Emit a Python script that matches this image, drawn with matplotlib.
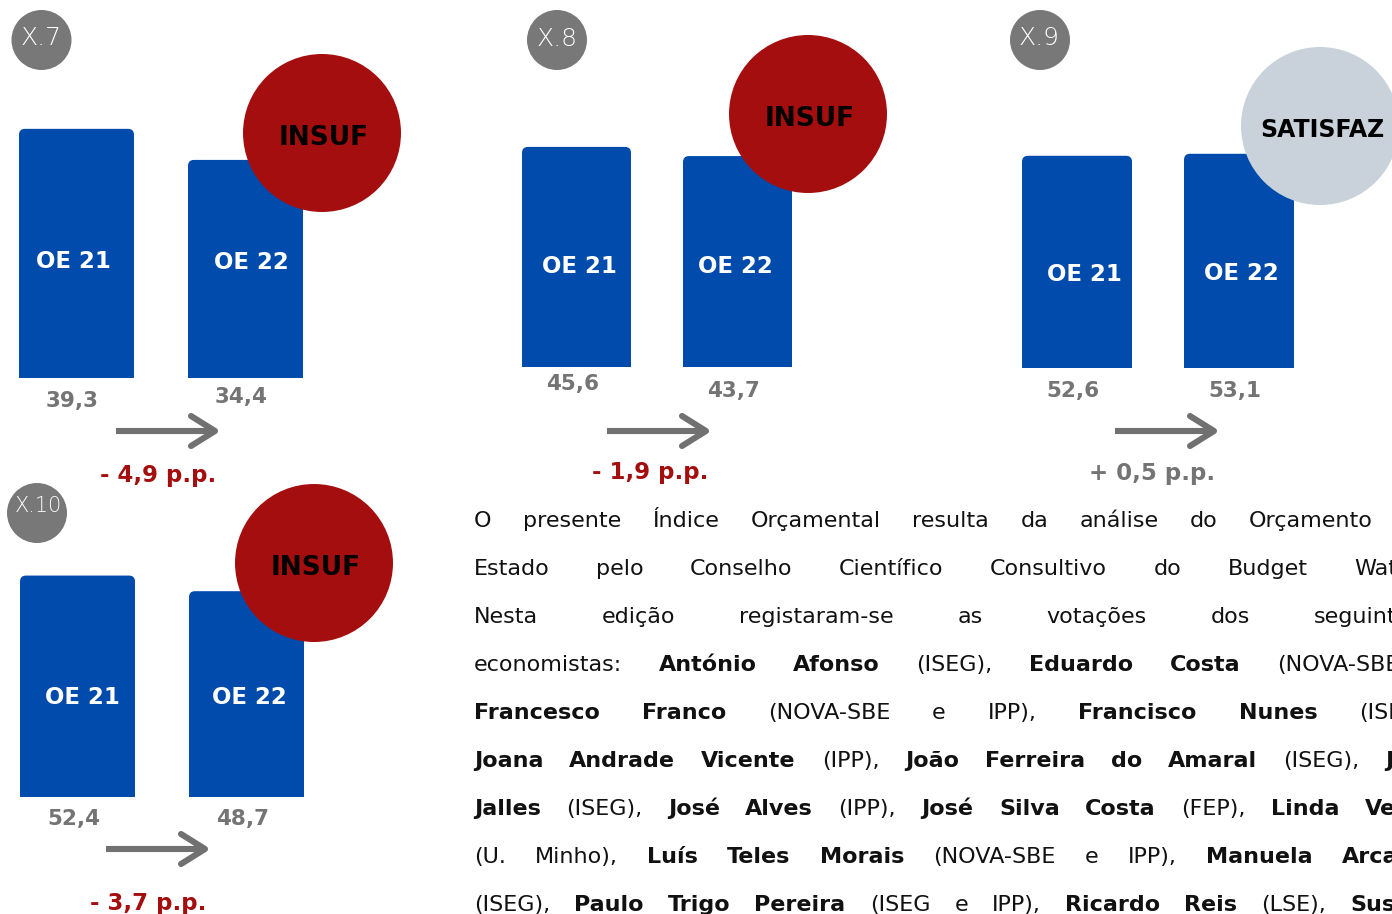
import matplotlib
matplotlib.use("Agg")
import matplotlib.pyplot as plt
from matplotlib.patches import Circle, FancyBboxPatch

plt.rcParams["font.family"] = ["DejaVu Sans"]

# --- data -------------------------------------------------------------
panels = ["X.7", "X.8", "X.9", "X.10"]
budgets = ["OE 21", "OE 22"]
oe21 = [39.3, 45.6, 52.6, 52.4]
oe22 = [34.4, 43.7, 53.1, 48.7]
ratings = ["INSUF", "INSUF", "SATISFAZ", "INSUF"]

# bold names are wrapped in *...*
note_lines = [
    "O presente Índice Orçamental resulta da análise do Orçamento",
    "Estado pelo Conselho Científico Consultivo do Budget Watch.",
    "Nesta edição registaram-se as votações dos seguintes",
    "economistas: *António Afonso* (ISEG), *Eduardo Costa* (NOVA-SBE),",
    "*Francesco Franco* (NOVA-SBE e IPP), *Francisco Nunes* (ISEG),",
    "*Joana Andrade Vicente* (IPP), *João Ferreira do Amaral* (ISEG), *João*",
    "*Jalles* (ISEG), *José Alves* (IPP), *José Silva Costa* (FEP), *Linda Veiga*",
    "(U. Minho), *Luís Teles Morais* (NOVA-SBE e IPP), *Manuela Arcanjo*",
    "(ISEG), *Paulo Trigo Pereira* (ISEG e IPP), *Ricardo Reis* (LSE), *Susana*",
]

# --- colours ----------------------------------------------------------
BLUE = "#014BAC"
RED = "#A50E0E"
BADGE = "#787878"
ARROW = "#717171"
GREY_TXT = "#747474"
OK_FILL = "#C9D1DA"
TEXT = "#111111"

# --- layout (pixels, y pointing down) ---------------------------------
W, H = 1392, 914
baseline = [378, 366.7, 368.3, 796.7]
px_per_unit = [6.34, 4.82, 4.04, 4.22]
bar_left = [(19, 188), (522, 683), (1022, 1184), (20, 189)]
bar_width = [115, 109, 110, 115]
name_x = [(73, 251), (579, 735), (1084, 1241), (82, 249)]
name_y = [(260, 261), (265, 265), (273, 272), (696, 696)]
value_y = [(399.5, 395.5), (382, 389.5), (389, 389), (817, 817)]
badge_xy = [(41.5, 40), (557, 40), (1040, 40), (37, 513)]
badge_txt = [(41, 36), (557, 36.5), (1039, 36), (38, 504)]
badge_size = [18, 18, 18, 15]
rating_xy = [(322, 133), (808, 114), (1320, 126), (314, 563)]
arrow_x = [116, 607, 1115, 106]
arrow_y = [431, 431, 431, 849]
change_xy = [(158.5, 474), (650, 471), (1152, 472), (148, 901.5)]
note_left = 474
note_last_x = [1249, 1354, 1314, 1277, 1359, 1385, 1365, 1342, 1350]


def fmt(v):
    return f"{v:.1f}".replace(".", ",")


fig = plt.figure(figsize=(W / 100, H / 100), dpi=100)
over = fig.add_axes([0, 0, 1, 1], zorder=3)
over.set_xlim(0, W)
over.set_ylim(H, 0)
over.axis("off")


def label(x, yc, s, size, **kw):
    # place text so that the middle of the capitals sits at yc
    cap = 0.73 * size / 0.72
    return over.text(x, yc + cap / 2, s, fontsize=size, ha="center",
                     va="baseline", **kw)


for i in range(len(panels)):
    s = px_per_unit[i]
    x0 = bar_left[i][0] - 10
    x1 = bar_left[i][1] + bar_width[i] + 10
    hpx = 300
    ax = fig.add_axes([x0 / W, (H - baseline[i]) / H, (x1 - x0) / W, hpx / H],
                      zorder=1)
    ax.set_xlim(x0, x1)
    ax.set_ylim(0, hpx / s)
    ax.axis("off")

    vals = [oe21[i], oe22[i]]
    bars = ax.bar(bar_left[i], vals, width=bar_width[i], align="edge",
                  color=BLUE, lw=0)
    for rect in bars:
        bx, by = rect.get_x(), rect.get_y()
        bw, bh = rect.get_width(), rect.get_height()
        ax.add_patch(FancyBboxPatch((bx, by), bw, bh,
                                    boxstyle="round,pad=0,rounding_size=6",
                                    mutation_aspect=1 / s, fc=BLUE, ec="none"))
        rect.set_height(bh / 2)

    for j, rect in enumerate(bars):
        cx = rect.get_x() + rect.get_width() / 2
        label(name_x[i][j], name_y[i][j], budgets[j], 16.5, color="white",
              fontweight="bold")
        label(cx - 4, value_y[i][j], fmt(vals[j]), 15.5, color=GREY_TXT,
              fontweight="bold")

    # panel badge
    over.add_patch(Circle(badge_xy[i], 30, fc=BADGE, ec="none"))
    label(badge_txt[i][0], badge_txt[i][1], panels[i], badge_size[i],
          color="white", fontweight="light")

    # rating circle
    good = ratings[i] != "INSUF"
    over.add_patch(Circle(rating_xy[i], 79, fc=OK_FILL if good else RED,
                          ec="none"))
    label(rating_xy[i][0] + 2, rating_xy[i][1] + 2, ratings[i],
          17 if good else 19, color="black", fontweight="bold")

    # arrow
    ax0, ay = arrow_x[i], arrow_y[i]
    tip = ax0 + 99
    over.plot([ax0, tip - 2], [ay, ay], color=ARROW, lw=4.4,
              solid_capstyle="butt")
    over.plot([tip - 24, tip, tip - 24], [ay - 15, ay, ay + 15], color=ARROW,
              lw=4.4, solid_capstyle="round", solid_joinstyle="round")

    # change in percentage points
    diff = round(vals[1] - vals[0], 1)
    sign = "-" if diff < 0 else "+"
    label(change_xy[i][0], change_xy[i][1], f"{sign} {fmt(abs(diff))} p.p.",
          16.5, color=RED if diff < 0 else GREY_TXT, fontweight="bold")

# justified note paragraph (right side is cropped, as in the source page)
renderer = fig.canvas.get_renderer()
for k, line in enumerate(note_lines):
    words = []
    for j, seg in enumerate(line.split("*")):
        for w in seg.split():
            words.append((w, j % 2 == 1))
    texts = [over.text(0, 527 + 48 * k, w, fontsize=16,
                       fontweight="bold" if b else "normal", color=TEXT,
                       ha="left", va="baseline")
             for w, b in words]
    widths = [t.get_window_extent(renderer).width for t in texts]
    gap = (note_last_x[k] - note_left - sum(widths[:-1])) / (len(texts) - 1)
    x = note_left
    for t, wd in zip(texts, widths):
        t.set_x(x)
        x += wd + gap

fig.savefig("out.png", dpi=100)
